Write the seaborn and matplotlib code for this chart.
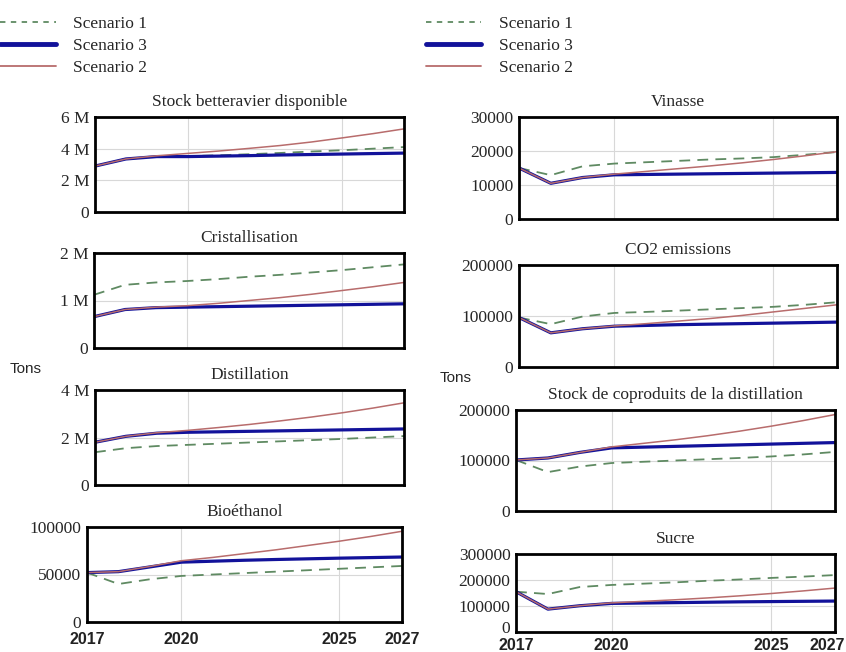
import pandas as pd
import seaborn as sns
import matplotlib.pyplot as plt
import matplotlib.transforms as mtransforms
from matplotlib.lines import Line2D

years = list(range(2017, 2028))

# Stock betteravier disponible (tons)
stock_s1 = [2.9e6, 3.35e6, 3.5e6, 3.53e6, 3.58e6, 3.65e6, 3.73e6, 3.82e6, 3.9e6, 4.0e6, 4.1e6]
stock_s2 = [2.9e6, 3.35e6, 3.55e6, 3.7e6, 3.85e6, 4.02e6, 4.2e6, 4.42e6, 4.68e6, 4.95e6, 5.25e6]
stock_s3 = [2.9e6, 3.35e6, 3.5e6, 3.5e6, 3.53e6, 3.56e6, 3.6e6, 3.63e6, 3.66e6, 3.69e6, 3.72e6]

# Cristallisation
crist_s1 = [1.12e6, 1.33e6, 1.38e6, 1.41e6, 1.45e6, 1.5e6, 1.54e6, 1.59e6, 1.64e6, 1.7e6, 1.76e6]
crist_s2 = [0.66e6, 0.81e6, 0.86e6, 0.89e6, 0.94e6, 1.0e6, 1.06e6, 1.13e6, 1.21e6, 1.29e6, 1.38e6]
crist_s3 = [0.66e6, 0.81e6, 0.85e6, 0.86e6, 0.87e6, 0.88e6, 0.89e6, 0.9e6, 0.91e6, 0.92e6, 0.93e6]

# Distillation
dist_s1 = [1.38e6, 1.55e6, 1.64e6, 1.69e6, 1.74e6, 1.79e6, 1.84e6, 1.89e6, 1.94e6, 2.0e6, 2.06e6]
dist_s2 = [1.8e6, 2.05e6, 2.2e6, 2.3e6, 2.42e6, 2.55e6, 2.7e6, 2.86e6, 3.04e6, 3.24e6, 3.46e6]
dist_s3 = [1.8e6, 2.05e6, 2.18e6, 2.22e6, 2.24e6, 2.26e6, 2.28e6, 2.3e6, 2.32e6, 2.34e6, 2.36e6]

# Bioéthanol
bio_s1 = [52000, 40000, 45000, 48500, 50000, 51500, 53000, 54500, 56000, 57500, 59000]
bio_s2 = [52000, 53000, 58500, 64500, 68000, 72000, 76000, 80500, 85000, 90000, 95500]
bio_s3 = [52000, 53000, 58000, 63000, 64000, 65000, 65800, 66500, 67200, 67800, 68400]

# Vinasse
vin_s1 = [15000, 12900, 15500, 16300, 16700, 17100, 17500, 17800, 18200, 18900, 19700]
vin_s2 = [15000, 10500, 12200, 13200, 14000, 14800, 15600, 16500, 17500, 18600, 19800]
vin_s3 = [15000, 10500, 12200, 13000, 13100, 13200, 13300, 13400, 13500, 13600, 13700]

# CO2 emissions
co2_s1 = [97000, 84000, 99000, 106000, 108000, 110500, 113000, 115500, 118000, 122000, 127000]
co2_s2 = [97000, 67000, 75000, 80500, 85000, 90000, 95000, 101000, 108000, 115000, 122000]
co2_s3 = [97000, 67000, 75000, 80000, 81500, 83000, 84000, 85000, 86000, 87000, 88000]

# Stock de coproduits de la distillation
cop_s1 = [101000, 77000, 88000, 95000, 97500, 100000, 102500, 105000, 108000, 112000, 117000]
cop_s2 = [101000, 105000, 116000, 127000, 134000, 141000, 149000, 158000, 168000, 179000, 191000]
cop_s3 = [101000, 105000, 116000, 125000, 126500, 128000, 129500, 131000, 132500, 134000, 135500]

# Sucre
suc_s1 = [155000, 146000, 173000, 181000, 186000, 191000, 197000, 202000, 208000, 213000, 219000]
suc_s2 = [155000, 88000, 101000, 112000, 118000, 124000, 131000, 139000, 148000, 158000, 169000]
suc_s3 = [155000, 88000, 101000, 110000, 111500, 113000, 114500, 116000, 117000, 118000, 119000]

titles = ["Stock betteravier disponible", "Cristallisation", "Distillation", "Bioéthanol",
          "Vinasse", "CO2 emissions", "Stock de coproduits de la distillation", "Sucre"]
panel_data = [(stock_s1, stock_s2, stock_s3), (crist_s1, crist_s2, crist_s3),
              (dist_s1, dist_s2, dist_s3), (bio_s1, bio_s2, bio_s3),
              (vin_s1, vin_s2, vin_s3), (co2_s1, co2_s2, co2_s3),
              (cop_s1, cop_s2, cop_s3), (suc_s1, suc_s2, suc_s3)]
ytick_vals = [[0, 2e6, 4e6, 6e6], [0, 1e6, 2e6], [0, 2e6, 4e6], [0, 50000, 100000],
              [0, 10000, 20000, 30000], [0, 100000, 200000], [0, 100000, 200000],
              [0, 100000, 200000, 300000]]
ytick_labels = [["0", "2 M", "4 M", "6 M"], ["0", "1 M", "2 M"], ["0", "2 M", "4 M"],
                ["0", "50000", "100000"], ["0", "10000", "20000", "30000"],
                ["0", "100000", "200000"], ["0", "100000", "200000"],
                ["0", "100000", "200000", "300000"]]
xtick_vals = [2017, 2020, 2025, 2027]

sns.set_style("white")
plt.rcParams['font.family'] = ['Liberation Serif', 'DejaVu Serif']

W, H = 846, 652
fig = plt.figure(figsize=(W / 100, H / 100), dpi=100)

# axes boxes in pixels: left, top, right, bottom
boxes = [(95, 117, 404, 212), (94, 253, 404, 348), (95, 390, 404, 485), (87, 527, 402, 622),
         (519, 117, 837, 219), (519, 265, 837, 367), (516, 410, 835, 511), (516, 554, 835, 632)]
xlabel_offset = {3: 18, 7: 13}

c1, c2, c3 = "#5f8a62", "#b86c6c", "#12129a"

for i, (box, title, (s1, s2, s3)) in enumerate(zip(boxes, titles, panel_data)):
    l, t, r, b = box
    ax = fig.add_axes([l / W, 1 - b / H, (r - l) / W, (b - t) / H])
    df = pd.DataFrame({"year": years, "s1": s1, "s2": s2, "s3": s3})
    sns.lineplot(data=df, x="year", y="s1", ax=ax, color=c1, linewidth=1.3,
                 linestyle=(0, (6, 4)))
    sns.lineplot(data=df, x="year", y="s3", ax=ax, color=c3, linewidth=2.3)
    sns.lineplot(data=df, x="year", y="s2", ax=ax, color=c2, linewidth=1.1)
    ax.set_xlim(2017, 2027)
    ax.set_ylim(ytick_vals[i][0], ytick_vals[i][-1])
    ax.set_yticks(ytick_vals[i])
    ax.set_yticklabels(ytick_labels[i], fontsize=12.5)
    ax.set_xticks([2020, 2025])
    ax.set_xticklabels([])
    ax.grid(True, color="#d8d8d8", linewidth=0.8)
    ax.set_axisbelow(True)
    for sp in ax.spines.values():
        sp.set_linewidth(2)
        sp.set_color("black")
    ax.tick_params(length=0, pad=4)
    ax.set_xlabel("")
    ax.set_ylabel("")
    ax.set_title(title, fontsize=12.5, pad=8)
    if i == 7:
        # lift the bottom "0" so it clears the year labels
        lab0 = ax.get_yticklabels()[0]
        lab0.set_transform(lab0.get_transform() +
                           mtransforms.ScaledTranslation(0, 5 / 100, fig.dpi_scale_trans))
    if i in xlabel_offset:
        for xv in xtick_vals:
            xf = ax.transData.transform((xv, 0))[0] / W
            ha = "center"
            if i == 7 and xv == 2027:
                xf = (r + 10) / W
                ha = "right"
            fig.text(xf, 1 - (b + xlabel_offset[i]) / H, str(xv), ha=ha, va="center",
                     fontsize=11.5, family="Liberation Sans", fontweight="bold", color="#222222")

fig.text(10 / W, 1 - 369 / H, "Tons", fontsize=11, family="Liberation Sans", va="center")
fig.text(440 / W, 1 - 378 / H, "Tons", fontsize=11, family="Liberation Sans", va="center")

handles = [Line2D([], [], color=c1, linewidth=1.3, linestyle=(0, (3, 3))),
           Line2D([], [], color=c3, linewidth=3.5),
           Line2D([], [], color=c2, linewidth=1.3)]
names = ["Scenario 1", "Scenario 3", "Scenario 2"]
fig.legend(handles, names, loc="upper left", bbox_to_anchor=(-0.018, 1.0), frameon=False,
           fontsize=12.5, handlelength=3.2, handletextpad=1.0, labelspacing=0.35)
fig.legend(handles, names, loc="upper left", bbox_to_anchor=(0.485, 1.0), frameon=False,
           fontsize=12.5, handlelength=3.2, handletextpad=1.0, labelspacing=0.35)

fig.savefig("out.png", dpi=100)
